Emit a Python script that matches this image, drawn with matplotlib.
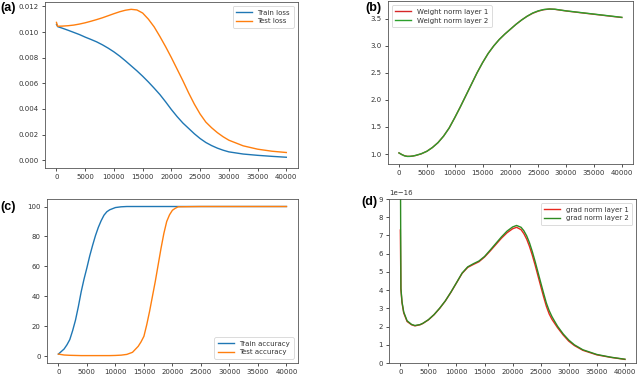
import matplotlib
matplotlib.use('Agg')
import matplotlib.pyplot as plt

# (a) loss
steps_loss = [0, 200, 1000, 2000, 3000, 4000, 5000, 6000, 7000, 8000, 9000, 10000, 11000, 12000,
              13000, 14000, 15000, 16000, 17000, 18000, 19000, 20000, 21000, 22000, 23000, 24000,
              25000, 26000, 27000, 28000, 29000, 30000, 32500, 35000, 37500, 40000]
train_loss = [0.0106, 0.01042, 0.0103, 0.01014, 0.00997, 0.0098, 0.0096, 0.00942, 0.00923, 0.009,
              0.00874, 0.00845, 0.00812, 0.00775, 0.00736, 0.00697, 0.00655, 0.0061, 0.00562,
              0.00512, 0.00455, 0.00395, 0.0034, 0.0029, 0.00248, 0.00206, 0.00169, 0.00138,
              0.00114, 0.00094, 0.00078, 0.00065, 0.00048, 0.00038, 0.0003, 0.00023]
test_loss = [0.01075, 0.01045, 0.01046, 0.01049, 0.01054, 0.01062, 0.01072, 0.01084, 0.01097,
             0.01111, 0.01127, 0.01143, 0.01158, 0.0117, 0.01177, 0.01172, 0.01148, 0.011,
             0.0104, 0.00965, 0.00885, 0.008, 0.0071, 0.0062, 0.00525, 0.00437, 0.0036,
             0.00297, 0.00253, 0.00215, 0.00183, 0.00156, 0.00112, 0.00086, 0.0007, 0.0006]

# (b) weight norm
steps_w = [0, 500, 1000, 1500, 2000, 2500, 3000, 4000, 5000, 6000, 7000, 8000, 9000, 10000,
           11000, 12000, 13000, 14000, 15000, 16000, 17000, 18000, 19000, 20000, 21000, 22000,
           23000, 24000, 25000, 26000, 27000, 28000, 29000, 30000, 32500, 35000, 37500, 40000]
wnorm1 = [1.02, 0.99, 0.967, 0.957, 0.957, 0.963, 0.973, 1.003, 1.05, 1.12, 1.21, 1.33, 1.48,
          1.67, 1.87, 2.08, 2.29, 2.5, 2.69, 2.86, 3.0, 3.12, 3.22, 3.31, 3.4, 3.48, 3.55, 3.605,
          3.645, 3.672, 3.683, 3.678, 3.663, 3.648, 3.617, 3.587, 3.557, 3.527]
wnorm2 = [1.02, 0.99, 0.966, 0.955, 0.956, 0.963, 0.974, 1.005, 1.05, 1.12, 1.21, 1.33, 1.48,
          1.67, 1.87, 2.08, 2.29, 2.5, 2.69, 2.86, 3.0, 3.12, 3.22, 3.31, 3.4, 3.48, 3.55, 3.61,
          3.65, 3.675, 3.685, 3.68, 3.665, 3.65, 3.62, 3.59, 3.56, 3.53]

# (c) accuracy
steps_acc = [0, 1000, 1500, 2000, 2500, 3000, 3500, 4000, 4500, 5000, 5500, 6000, 6500, 7000,
             7500, 8000, 8500, 9000, 10000, 11000, 12000, 13000, 14000, 14500, 15000, 15500,
             16000, 16500, 17000, 17500, 18000, 18500, 19000, 19500, 20000, 20500, 21000,
             25000, 30000, 35000, 40000]
train_acc = [1.3, 4.7, 7.5, 11, 17, 24, 33, 43, 51.5, 59, 67, 74, 80.5, 86, 90.5, 94.2, 96.5,
             97.8, 99.3, 99.8, 100, 100, 100, 100, 100, 100, 100, 100, 100, 100, 100, 100, 100,
             100, 100, 100, 100, 100, 100, 100, 100]
test_acc = [1.3, 0.7, 0.6, 0.5, 0.45, 0.4, 0.35, 0.3, 0.3, 0.3, 0.3, 0.3, 0.3, 0.3, 0.3, 0.3,
            0.3, 0.3, 0.4, 0.6, 1.1, 2.5, 6.5, 9.5, 13.2, 21, 30, 40, 50, 61, 72, 82, 90, 94.5,
            97.5, 98.8, 99.8, 100, 100, 100, 100]

# (d) grad norm, units of 1e-16
steps_g = [0, 100, 300, 600, 1200, 2000, 2600, 3500, 4000, 5000, 6000, 7000, 8000, 9000, 10000,
           11000, 12000, 13000, 14000, 15000, 16000, 17000, 18000, 19000, 20000, 20700, 21500,
           22000, 22500, 23000, 23500, 24000, 24500, 25000, 25500, 26000, 26500, 27000, 27500,
           28000, 29000, 30000, 31000, 32500, 35000, 37500, 40000]
gnorm1 = [7.3, 4.03, 3.3, 2.75, 2.28, 2.1, 2.04, 2.1, 2.17, 2.37, 2.65, 3.0, 3.4, 3.88, 4.4,
          4.92, 5.25, 5.41, 5.56, 5.82, 6.15, 6.5, 6.85, 7.15, 7.37, 7.45, 7.32, 7.1, 6.8, 6.4,
          5.92, 5.38, 4.8, 4.22, 3.65, 3.12, 2.7, 2.4, 2.17, 1.94, 1.54, 1.2, 0.96, 0.7, 0.45,
          0.31, 0.2]
gnorm2 = [12.0, 4.1, 3.35, 2.8, 2.32, 2.12, 2.06, 2.11, 2.18, 2.38, 2.66, 3.01, 3.41, 3.89,
          4.41, 4.94, 5.28, 5.45, 5.6, 5.85, 6.2, 6.56, 6.92, 7.24, 7.47, 7.55, 7.45, 7.26, 6.98,
          6.6, 6.12, 5.58, 5.0, 4.42, 3.85, 3.3, 2.88, 2.55, 2.28, 2.02, 1.6, 1.26, 1.0, 0.73,
          0.47, 0.32, 0.21]

fig = plt.figure(figsize=(6.4, 3.77), dpi=100)
ax_a = fig.add_axes([0.0703, 0.554, 0.395, 0.441])
ax_b = fig.add_axes([0.606, 0.565, 0.383, 0.432])
ax_c = fig.add_axes([0.0734, 0.037, 0.392, 0.435])
ax_d = fig.add_axes([0.608, 0.037, 0.386, 0.435])

leg_kw = dict(fontsize=5, handlelength=2.3, borderpad=0.5, labelspacing=0.4,
              handletextpad=0.8, borderaxespad=0.6)

ax_a.plot(steps_loss, train_loss, color='tab:blue', lw=1.0, label='Train loss')
ax_a.plot(steps_loss, test_loss, color='tab:orange', lw=1.0, label='Test loss')
ax_a.set_ylim(-0.00062, 0.01235)
ax_a.legend(loc='upper right', **leg_kw)

ax_b.plot(steps_w, wnorm1, color='tab:red', lw=1.0, label='Weight norm layer 1')
ax_b.plot(steps_w, wnorm2, color='tab:green', lw=1.0, label='Weight norm layer 2')
ax_b.set_ylim(0.815, 3.83)
ax_b.legend(loc='upper left', **leg_kw)

ax_c.plot(steps_acc, train_acc, color='tab:blue', lw=1.0, label='Train accuracy')
ax_c.plot(steps_acc, test_acc, color='tab:orange', lw=1.0, label='Test accuracy')
ax_c.legend(loc='lower right', **leg_kw)

ax_d.plot(steps_g, [v * 1e-16 for v in gnorm1], color='#e8281e', lw=1.0, label='grad norm layer 1')
ax_d.plot(steps_g, [v * 1e-16 for v in gnorm2], color='#2e8b22', lw=1.0, label='grad norm layer 2')
ax_d.set_ylim(0, 9e-16)
ax_d.legend(loc='upper right', **leg_kw)

for ax in [ax_a, ax_b, ax_c, ax_d]:
    ax.set_xticks(range(0, 40001, 5000))
    ax.tick_params(labelsize=5, length=2.5, width=0.6, pad=2, colors='#333333')
    for s in ax.spines.values():
        s.set_linewidth(0.6)
        s.set_color('#555555')
    ax.yaxis.get_offset_text().set_fontsize(5)
    leg = ax.get_legend()
    leg.get_frame().set_linewidth(0.6)
    for t in leg.get_texts():
        t.set_color('#333333')

labels = [('(a)', 0.0, 0.978), ('(b)', 0.571, 0.978), ('(c)', 0.0, 0.45), ('(d)', 0.564, 0.465)]
for txt, x, y in labels:
    fig.text(x, y, txt, fontsize=9, fontweight='bold', family='Liberation Sans', va='center')

fig.savefig('out.png', dpi=100)
